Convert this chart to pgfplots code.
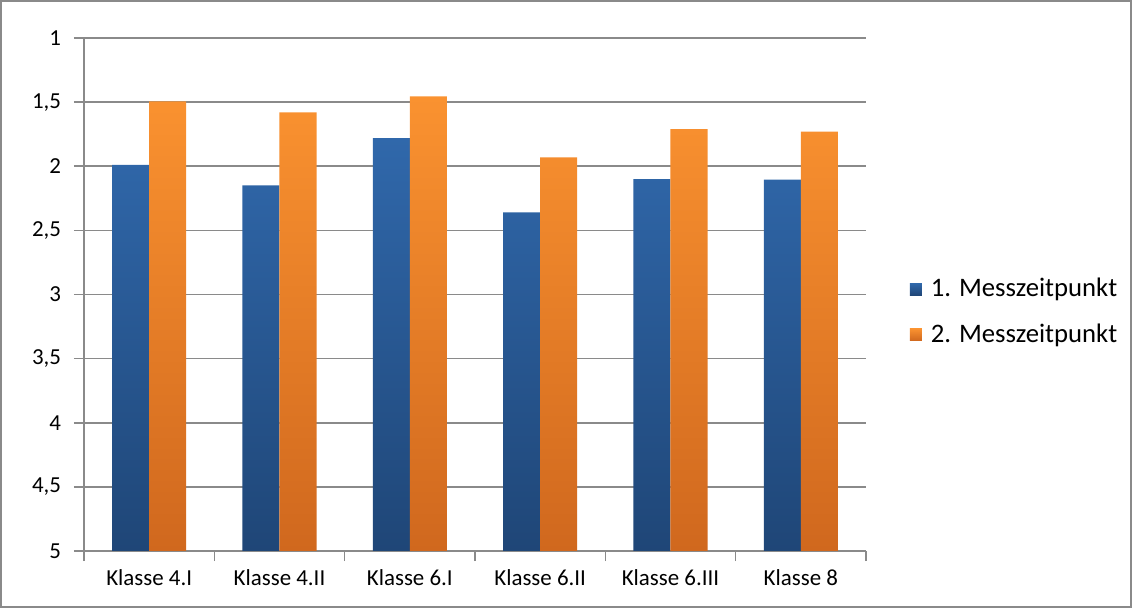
\documentclass[border=0pt]{standalone}
\usepackage{pgfplots}
\usepackage{pgfplotstable}
\pgfplotsset{compat=1.18}
\usepackage{fontspec}
\setmainfont{Carlito}

\definecolor{blueTop}{HTML}{3068AB}
\definecolor{blueBot}{HTML}{1F4677}
\definecolor{orTop}{HTML}{FA9230}
\definecolor{orBot}{HTML}{D0681E}
\definecolor{gridgray}{HTML}{8A8A8A}
\definecolor{framegray}{HTML}{8A8A8A}

% mean grade per class at the two measurement points
\pgfplotstableread{
x  t1     t2
0  1.99   1.495
1  2.15   1.58
2  1.78   1.455
3  2.36   1.93
4  2.10   1.71
5  2.105  1.73
}\scores

\begin{document}
\begin{tikzpicture}
\useasboundingbox (0,0) rectangle (566bp,304bp);
\draw[framegray, line width=0.8bp] (0.4bp,0.4bp) rectangle (565.6bp,303.6bp);
\begin{axis}[
  at={(42bp,28.5bp)}, anchor=south west,
  scale only axis, width=391bp, height=256.5bp,
  xmin=-0.5, xmax=5.5,
  % grades: 1 is best, so the scale runs from 5 at the bottom up to 1
  y coord trafo/.code={\pgfmathparse{5-#1}},
  y coord inv trafo/.code={\pgfmathparse{5-#1}},
  ymin=5, ymax=1,
  ytick={1,1.5,2,2.5,3,3.5,4,4.5,5},
  /pgf/number format/use comma,
  /pgf/number format/assume math mode=true,
  % tick marks between the classes, class names centred under the bars
  xtick={-0.5,0.5,1.5,2.5,3.5,4.5,5.5},
  xticklabels={},
  extra x ticks={0,1,2,3,4,5},
  extra x tick labels={Klasse 4.I, Klasse 4.II, Klasse 6.I, Klasse 6.II, Klasse 6.III, Klasse 8},
  extra x tick style={grid=none, major tick length=0pt},
  tick align=outside,
  major tick length=5bp,
  tick style={gridgray, line width=0.8bp},
  axis x line*=bottom, axis y line*=left,
  axis line style={gridgray, line width=0.8bp},
  ymajorgrids, major grid style={gridgray, line width=0.8bp},
  ticklabel style={font=\fontsize{11.5}{13}\selectfont, text=black},
  xticklabel style={yshift=-6bp},
  yticklabel style={xshift=-3bp},
  legend style={at={(1,0.466)}, anchor=west, xshift=19.7bp, draw=none, fill=none,
    font=\fontsize{13.4}{15}\selectfont, row sep=8bp, inner sep=2bp},
  legend cell align=left,
  legend image code/.code={\fill[#1] (0bp,-3bp) rectangle (6bp,3bp);
    \path (0bp,0bp) -- (8.5bp,0bp);},
]
\addplot[ybar, bar width=0.284, bar shift=-0.142, draw=none,
  top color=blueTop, bottom color=blueBot] table[x=x, y=t1]{\scores};
\addlegendentry{1. Messzeitpunkt}
\addplot[ybar, bar width=0.284, bar shift=0.142, draw=none,
  top color=orTop, bottom color=orBot] table[x=x, y=t2]{\scores};
\addlegendentry{2. Messzeitpunkt}
\end{axis}
\end{tikzpicture}
\end{document}
